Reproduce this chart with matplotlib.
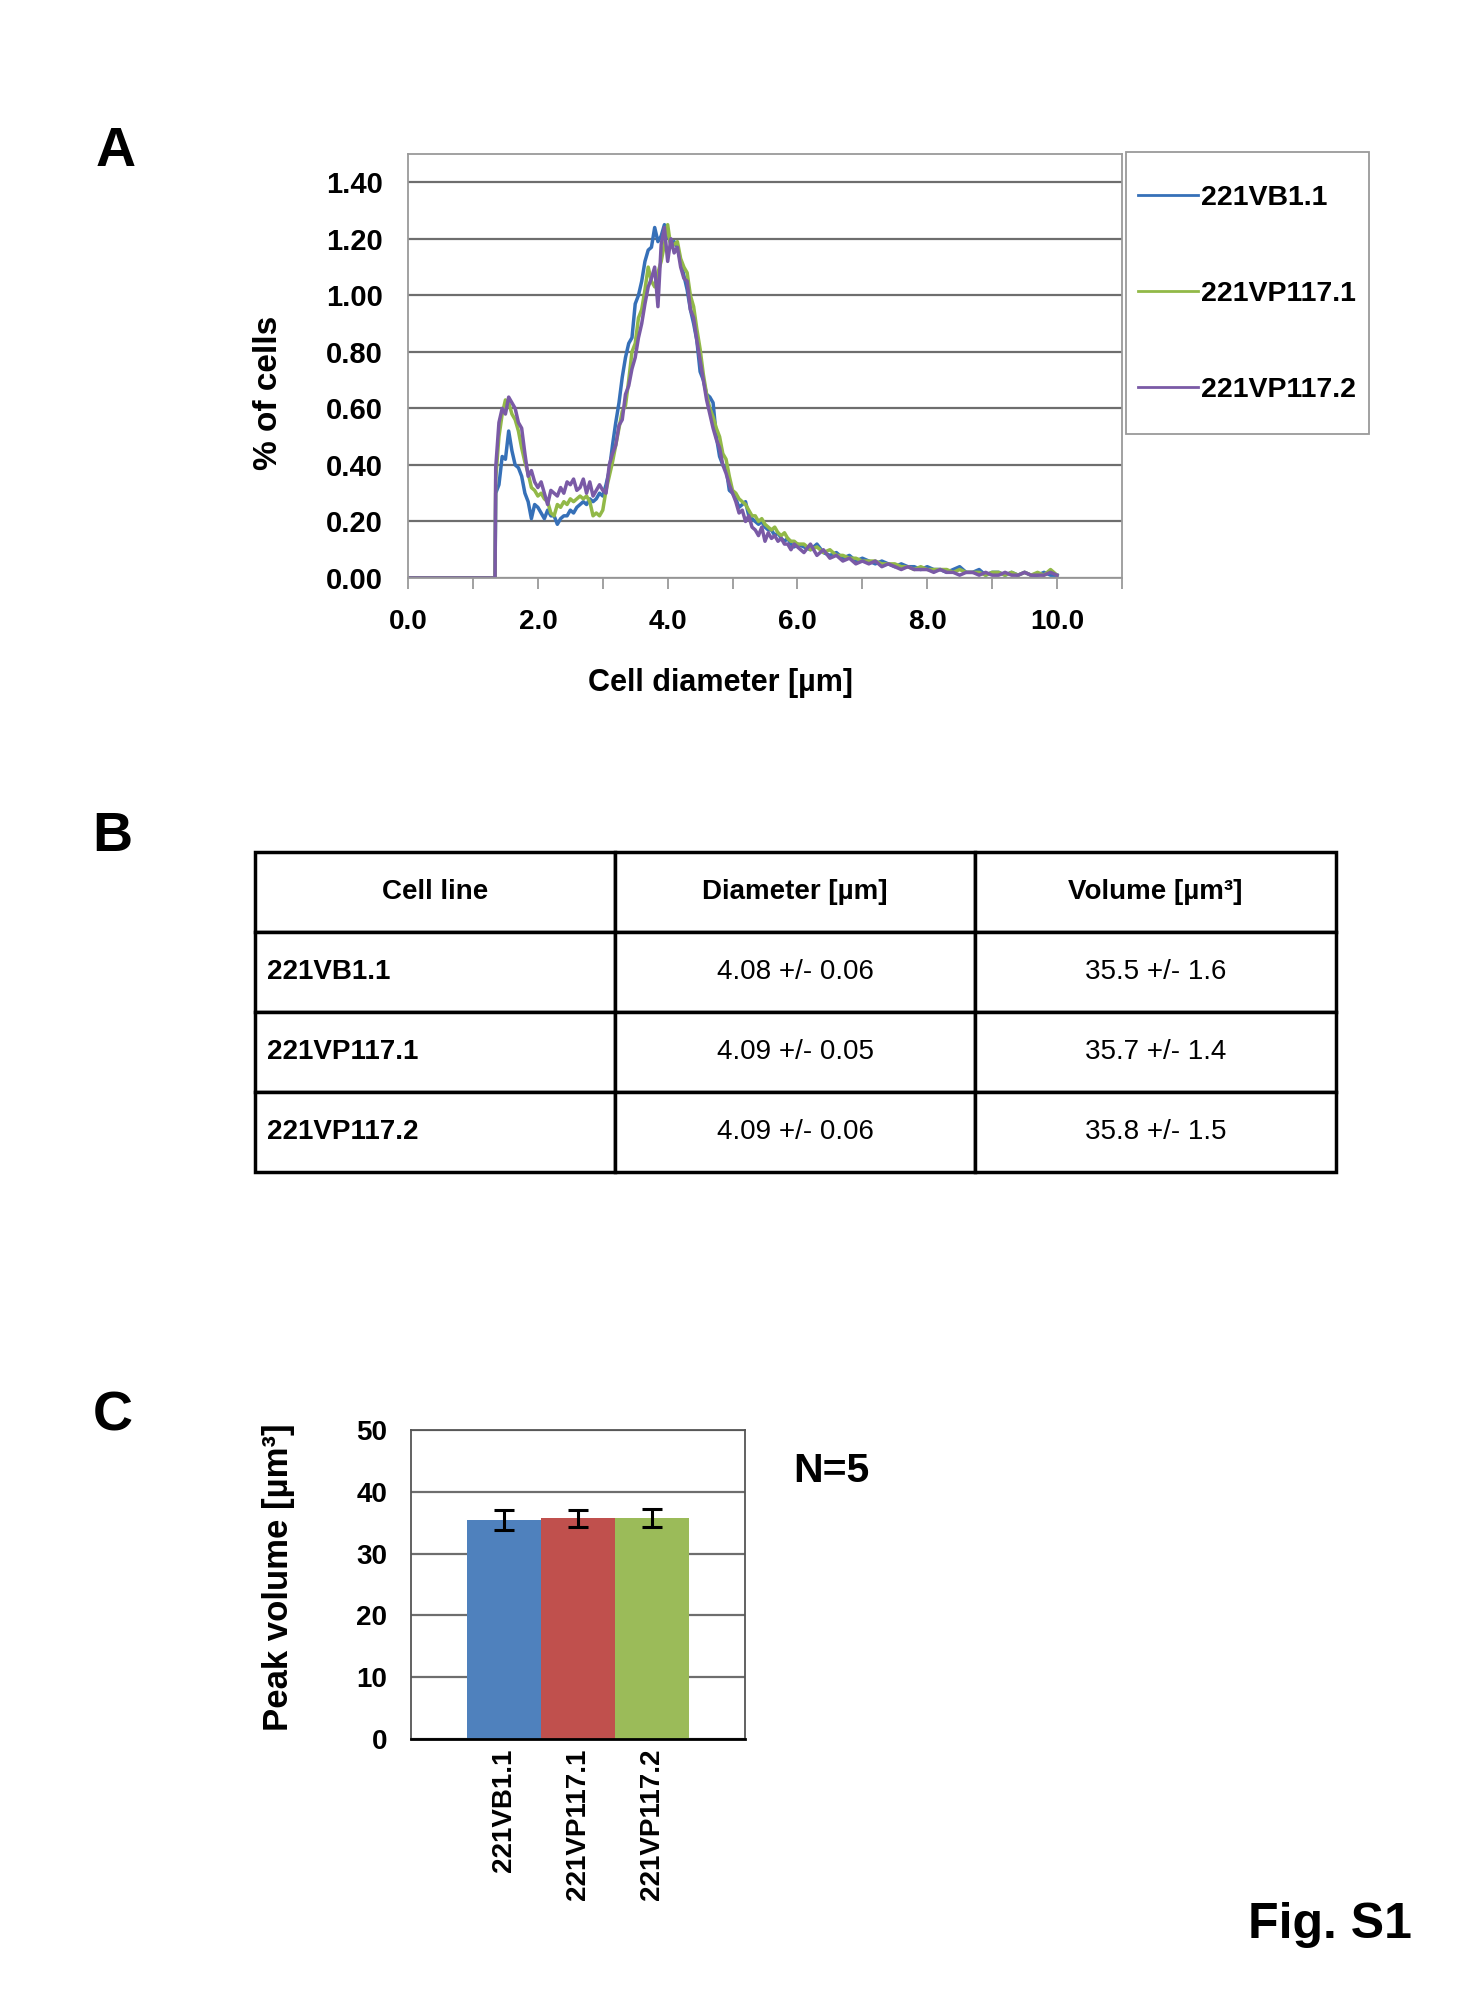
import numpy as np
import matplotlib
matplotlib.use("Agg")
import matplotlib.pyplot as plt
from matplotlib.patches import Rectangle

plt.rcParams['font.family'] = ['Liberation Sans', 'DejaVu Sans']

# ---- panel A data: % of cells vs diameter ----
x_lead = [0.0, 1.34]
x_peak = np.round(np.arange(1.35, 6.0001, 0.05), 2)
x_tail = np.round(np.arange(6.1, 10.0001, 0.1), 1)

blue_peak = [0.30, 0.33, 0.43, 0.42, 0.52, 0.45, 0.40, 0.39, 0.36, 0.30,
             0.27, 0.21, 0.26, 0.25, 0.23, 0.21, 0.24, 0.22, 0.22, 0.19,
             0.21, 0.22, 0.22, 0.24, 0.23, 0.25, 0.26, 0.27, 0.26, 0.28,
             0.27, 0.28, 0.30, 0.29, 0.33, 0.38, 0.47, 0.55, 0.62, 0.71,
             0.78, 0.83, 0.85, 0.97, 1.00, 1.05, 1.12, 1.16, 1.17, 1.24,
             1.19, 1.21, 1.25, 1.22, 1.18, 1.19, 1.17, 1.12, 1.07, 1.02,
             0.95, 0.90, 0.84, 0.73, 0.70, 0.65, 0.64, 0.62, 0.50, 0.43,
             0.40, 0.39, 0.31, 0.30, 0.28, 0.25, 0.26, 0.27, 0.22, 0.21,
             0.20, 0.19, 0.20, 0.18, 0.17, 0.17, 0.15, 0.16, 0.14, 0.13,
             0.14, 0.12, 0.11, 0.12]
green_peak = [0.35, 0.50, 0.58, 0.63, 0.62, 0.58, 0.56, 0.52, 0.46, 0.41,
              0.37, 0.32, 0.31, 0.29, 0.30, 0.28, 0.27, 0.23, 0.22, 0.26,
              0.25, 0.27, 0.26, 0.28, 0.27, 0.28, 0.29, 0.28, 0.29, 0.27,
              0.22, 0.23, 0.22, 0.24, 0.31, 0.36, 0.41, 0.47, 0.53, 0.59,
              0.61, 0.70, 0.80, 0.83, 0.92, 0.95, 1.02, 1.10, 1.05, 1.03,
              1.08, 1.12, 1.18, 1.25, 1.17, 1.18, 1.19, 1.13, 1.10, 1.08,
              1.00, 0.96, 0.88, 0.81, 0.72, 0.65, 0.60, 0.57, 0.53, 0.50,
              0.44, 0.42, 0.36, 0.31, 0.30, 0.28, 0.27, 0.26, 0.24, 0.22,
              0.22, 0.20, 0.21, 0.19, 0.18, 0.17, 0.18, 0.16, 0.15, 0.16,
              0.14, 0.13, 0.13, 0.12]
purple_peak = [0.39, 0.55, 0.60, 0.58, 0.64, 0.62, 0.60, 0.55, 0.53, 0.44,
               0.36, 0.38, 0.34, 0.32, 0.34, 0.30, 0.26, 0.31, 0.30, 0.29,
               0.32, 0.30, 0.34, 0.33, 0.35, 0.31, 0.32, 0.35, 0.30, 0.34,
               0.29, 0.31, 0.33, 0.31, 0.30, 0.40, 0.44, 0.47, 0.54, 0.56,
               0.65, 0.68, 0.74, 0.78, 0.85, 0.90, 0.97, 1.03, 1.06, 1.10,
               0.96, 1.18, 1.24, 1.12, 1.20, 1.15, 1.17, 1.10, 1.06, 1.05,
               0.95, 0.92, 0.84, 0.77, 0.70, 0.63, 0.58, 0.53, 0.49, 0.46,
               0.40, 0.37, 0.33, 0.30, 0.27, 0.23, 0.24, 0.20, 0.22, 0.18,
               0.17, 0.15, 0.18, 0.13, 0.16, 0.14, 0.15, 0.13, 0.14, 0.12,
               0.12, 0.10, 0.12, 0.11]

blue_tail = [0.11, 0.10, 0.12, 0.09, 0.08, 0.09, 0.07, 0.08, 0.06, 0.07,
             0.06, 0.05, 0.06, 0.05, 0.04, 0.05, 0.04, 0.04, 0.03, 0.04,
             0.03, 0.03, 0.02, 0.03, 0.04, 0.02, 0.02, 0.03, 0.01, 0.02,
             0.02, 0.01, 0.02, 0.01, 0.02, 0.01, 0.01, 0.02, 0.01, 0.01]
green_tail = [0.12, 0.10, 0.11, 0.09, 0.10, 0.08, 0.08, 0.07, 0.07, 0.06,
              0.06, 0.06, 0.05, 0.05, 0.05, 0.04, 0.04, 0.03, 0.04, 0.03,
              0.03, 0.03, 0.03, 0.02, 0.03, 0.02, 0.02, 0.02, 0.01, 0.02,
              0.02, 0.01, 0.02, 0.01, 0.02, 0.01, 0.02, 0.01, 0.03, 0.01]
purple_tail = [0.09, 0.12, 0.08, 0.10, 0.07, 0.08, 0.06, 0.07, 0.05, 0.06,
               0.05, 0.06, 0.04, 0.05, 0.04, 0.03, 0.04, 0.03, 0.03, 0.03,
               0.02, 0.03, 0.02, 0.02, 0.01, 0.02, 0.02, 0.01, 0.02, 0.01,
               0.01, 0.02, 0.01, 0.01, 0.02, 0.01, 0.01, 0.01, 0.02, 0.01]

cell_lines = ['221VB1.1', '221VP117.1', '221VP117.2']
line_colors = ['#3670B8', '#92B948', '#7A5AA6']

# ---- panel B data ----
col_labels = ['Cell line', 'Diameter [µm]', 'Volume [µm³]']
diam_text = ['4.08 +/- 0.06', '4.09 +/- 0.05', '4.09 +/- 0.06']
vol_text = ['35.5 +/- 1.6', '35.7 +/- 1.4', '35.8 +/- 1.5']

# ---- panel C data ----
peak_vol = [35.5, 35.7, 35.8]
peak_err = [1.6, 1.4, 1.5]
bar_colors = ['#4F81BD', '#C0504D', '#9BBB59']

fig = plt.figure(figsize=(14.84, 20), dpi=100)
grid_c = '#6e6e6e'
spine_c = '#9a9a9a'

# ================= A =================
ax = fig.add_axes([0.275, 0.711, 0.481, 0.212])
x_all = np.concatenate([x_lead, x_peak, x_tail])
series = [blue_peak + blue_tail, green_peak + green_tail, purple_peak + purple_tail]
for name, col, vals in zip(cell_lines, line_colors, series):
    y = np.concatenate([[0.0, 0.0], vals])
    ax.plot(x_all, y, color=col, lw=2.5, label=name)
ax.set_xlim(0, 11)
ax.set_ylim(0, 1.5)
ax.set_yticks(np.arange(0, 1.41, 0.2))
ax.set_yticklabels(['%.2f' % v for v in np.arange(0, 1.41, 0.2)])
ax.set_xticks(range(12))
ax.set_xticklabels(['%.1f' % v if v % 2 == 0 and v <= 10 else '' for v in range(12)])
ax.yaxis.grid(True, color=grid_c, lw=1.6)
ax.set_axisbelow(True)
for s in ax.spines.values():
    s.set_color(spine_c)
    s.set_linewidth(1.3)
ax.tick_params(axis='x', direction='out', length=8, color=spine_c, width=1.3, pad=14, labelsize=20)
ax.tick_params(axis='y', length=0, pad=18, labelsize=21)
for t in ax.get_xticklabels() + ax.get_yticklabels():
    t.set_fontweight('bold')
fig.text(0.4853, 0.6585, 'Cell diameter [µm]', fontsize=22, fontweight='bold',
         ha='center', va='center')
fig.text(0.1811, 0.8037, '% of cells', fontsize=24, fontweight='bold',
         ha='center', va='center', rotation=90)

# legend: frame drawn separately so its size matches the reference box
fig.patches.append(Rectangle((0.7586, 0.7832), 0.1638, 0.1407, transform=fig.transFigure,
                             facecolor='white', edgecolor=spine_c, lw=1.3, zorder=0))
leg = fig.legend(loc='upper left', bbox_to_anchor=(0.767, 0.9075), frameon=False,
                 prop={'size': 20.5, 'weight': 'bold'}, labelspacing=2.45, handlelength=2.1,
                 handletextpad=0.1, borderpad=0, borderaxespad=0)
for h in leg.get_lines():
    h.set_linewidth(2.0)

fig.text(0.078, 0.9238, 'A', fontsize=40, fontweight='bold', ha='center', va='center')

# ================= B =================
axt = fig.add_axes([0.1716, 0.4141, 0.7285, 0.1599])
axt.axis('off')
rows = [[n, d, v] for n, d, v in zip(cell_lines, diam_text, vol_text)]
tbl = axt.table(cellText=rows, colLabels=col_labels, cellLoc='center', bbox=[0, 0, 1, 1])
tbl.auto_set_font_size(False)
for (r, c), cell in tbl.get_celld().items():
    cell.set_linewidth(2.5)
    cell.set_edgecolor('black')
    cell.get_text().set_fontsize(20)
    if r == 0:
        cell.get_text().set_fontweight('bold')
    elif c == 0:
        cell.get_text().set_fontweight('bold')
        cell._loc = 'left'
        cell.get_text().set_ha('left')
        cell.PAD = 0.035

fig.text(0.076, 0.5817, 'B', fontsize=40, fontweight='bold', ha='center', va='center')

# ================= C =================
axc = fig.add_axes([0.2767, 0.1307, 0.2250, 0.1542])
pos = np.arange(len(peak_vol))
axc.bar(pos, peak_vol, width=1.0, color=bar_colors, zorder=2,
        yerr=peak_err, capsize=7, error_kw={'elinewidth': 2.2, 'capthick': 2.2, 'ecolor': 'black'})
axc.set_xlim(-1.255, 3.255)
axc.set_ylim(0, 50)
axc.set_yticks(range(0, 51, 10))
axc.yaxis.grid(True, color=grid_c, lw=1.6, zorder=0)
axc.set_axisbelow(True)
axc.set_xticks(pos)
axc.set_xticklabels(cell_lines, rotation=90, fontsize=20, fontweight='bold')
axc.tick_params(axis='x', length=0, pad=7)
axc.tick_params(axis='y', length=0, pad=17, labelsize=20)
for t in axc.get_yticklabels():
    t.set_fontweight('bold')
for s in axc.spines.values():
    s.set_color('#555555')
    s.set_linewidth(1.3)
axc.spines['bottom'].set_color('black')
axc.spines['bottom'].set_linewidth(2)
fig.text(0.1879, 0.2113, 'Peak volume [µm³]', fontsize=25, fontweight='bold',
         ha='center', va='center', rotation=90)

fig.text(0.076, 0.2917, 'C', fontsize=40, fontweight='bold', ha='center', va='center')
fig.text(0.560, 0.2645, 'N=5', fontsize=29.5, fontweight='bold', ha='center', va='center')
fig.text(0.896, 0.0373, 'Fig. S1', fontsize=36, fontweight='bold', ha='center', va='center')

fig.savefig('out.png', dpi=100, facecolor='white')
